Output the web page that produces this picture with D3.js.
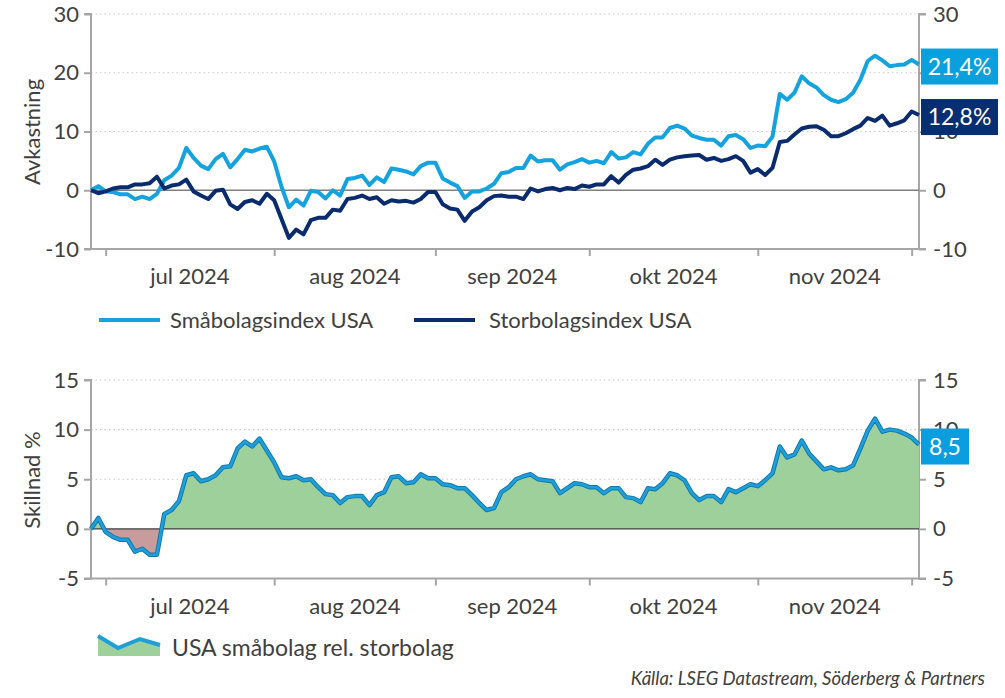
<!DOCTYPE html>
<html><head><meta charset="utf-8">
<script src="https://cdn.jsdelivr.net/npm/d3@7"></script>
<style>
html,body{margin:0;padding:0;background:#fff;}
svg{display:block;font-family:Lato, "Open Sans", sans-serif;}
</style></head>
<body>
<svg id="c" width="1005" height="698"></svg>
<script>
// ---------- DATA ----------
const startDay = "2024-06-27";
const endDay = "2024-12-04"; // exclusive; weekdays only
const monthLabels = ["jul 2024","aug 2024","sep 2024","okt 2024","nov 2024"];
const seriesNames = ["Småbolagsindex USA","Storbolagsindex USA"];
const diffName = "USA småbolag rel. storbolag";
const topTicks = [-10,0,10,20,30];
const bottomTicks = [-5,0,5,10,15];

const small = [0.0,0.7,-0.2,-0.3,-0.7,-0.7,-1.5,-1.1,-1.5,-0.6,
1.7,2.5,3.8,7.2,5.5,4.2,3.6,5.3,6.2,3.9,
5.3,6.9,6.6,7.1,7.4,4.9,0.6,-2.9,-1.6,-2.6,
-0.1,-0.3,-1.4,0.0,-0.9,1.9,2.1,2.5,0.9,2.2,
1.4,3.7,3.5,3.2,2.7,4.1,4.7,4.7,2.0,1.3,
0.7,-1.3,-0.2,-0.2,0.3,1.1,2.9,3.1,3.8,3.8,
5.9,4.9,5.1,5.1,3.5,4.4,4.8,5.3,4.7,5.0,
4.6,6.5,5.4,5.6,6.5,6.1,7.9,9.0,9.0,10.6,
11.0,10.5,9.3,8.9,8.6,8.6,7.6,9.2,9.4,8.7,
7.2,7.6,7.5,9.1,16.4,15.4,16.6,19.4,18.2,17.5,
16.2,15.4,15.0,15.5,16.6,18.8,22.0,22.9,22.1,21.1,
21.3,21.4,22.2,21.4];

const large = [0.0,-0.5,-0.2,0.3,0.5,0.5,1.0,1.0,1.2,2.3,
0.3,0.8,1.0,1.8,-0.2,-0.9,-1.5,-0.1,0.1,-2.4,
-3.2,-2.0,-1.7,-2.3,-0.6,-1.7,-4.9,-8.1,-6.7,-7.5,
-5.1,-4.7,-4.7,-3.3,-3.5,-1.5,-1.3,-0.9,-1.5,-1.2,
-2.3,-1.7,-1.9,-1.8,-2.1,-1.5,-0.3,-0.3,-2.4,-3.1,
-3.3,-5.2,-3.6,-2.9,-1.7,-1.0,-0.9,-1.1,-1.1,-1.5,
0.3,-0.2,0.2,0.4,0.0,0.4,0.2,0.8,0.6,1.0,
1.0,2.4,1.3,2.6,3.5,3.7,4.1,5.2,4.3,5.2,
5.6,5.8,5.9,6.0,5.2,5.5,5.0,5.3,5.8,5.0,
3.0,3.6,2.6,3.8,8.2,8.4,9.5,10.5,10.8,10.9,
10.3,9.2,9.2,9.7,10.4,11.0,12.3,11.8,12.7,11.0,
11.4,11.9,13.4,12.8];

const diff = [0.0,1.1,-0.3,-0.8,-1.1,-1.1,-2.3,-2.0,-2.6,-2.6,
1.5,1.9,2.8,5.4,5.6,4.8,5.0,5.4,6.2,6.3,
8.1,8.8,8.3,9.1,7.9,6.7,5.2,5.1,5.3,4.9,
5.0,4.2,3.5,3.4,2.6,3.2,3.3,3.3,2.4,3.4,
3.7,5.2,5.3,4.6,4.7,5.5,5.1,5.1,4.5,4.4,
4.1,4.1,3.4,2.6,1.9,2.1,3.7,4.2,5.0,5.3,
5.5,5.0,4.9,4.8,3.6,4.1,4.6,4.5,4.2,4.2,
3.6,4.1,4.1,3.2,3.1,2.7,4.1,4.0,4.6,5.6,
5.4,4.9,3.6,2.9,3.3,3.3,2.7,4.0,3.7,4.1,
4.5,4.3,4.9,5.6,8.3,7.2,7.5,8.9,7.6,6.8,
6.0,6.2,5.9,6.0,6.4,8.1,9.9,11.1,9.8,10.0,
9.9,9.6,9.2,8.5];

const endLabels = ["21,4%","12,8%"];
const diffEndLabel = "8,5";
const sourceText = "Källa: LSEG Datastream, Söderberg & Partners";

// ---------- SETUP ----------
const dates = d3.timeDay.range(new Date(startDay+"T00:00"), new Date(endDay+"T00:00"))
  .filter(d => d.getDay() !== 0 && d.getDay() !== 6);
const monthStarts = [];
dates.forEach((d,i) => { if (i>0 && d.getMonth() !== dates[i-1].getMonth()) monthStarts.push(i); });

const C = {light:"#14A3DF", dark:"#0A2C6E", text:"#404040", axis:"#A6A6A6", grid:"#C8C8C8",
  green:"#9DD09A", red:"#C99C9C", diffLine:"#1E9FDA", diffEdge:"#0F78AE"};
const FS = 22;

const svg = d3.select("#c");
const L = 91, R = 919;
const x = d3.scaleLinear().domain([0, dates.length-1]).range([L, R]);
const yT = d3.scaleLinear().domain([-10,30]).range([249,14]);
const yB = d3.scaleLinear().domain([-5,15]).range([578.5,380]);
const fmt = d => String(d);

function panel(y, ticks, title, titleY) {
  const g = svg.append("g");
  g.selectAll(".grid").data(ticks.filter(t => t !== 0 && t !== ticks[0])).join("line")
    .attr("x1", L).attr("x2", R).attr("y1", d => y(d)).attr("y2", d => y(d))
    .attr("stroke", C.grid).attr("stroke-width", 1.2).attr("stroke-dasharray", "1.5,3");
  const left = g.append("g").attr("transform", `translate(${L},0)`)
    .call(d3.axisLeft(y).tickValues(ticks).tickSize(7).tickPadding(5).tickFormat(fmt));
  const right = g.append("g").attr("transform", `translate(${R},0)`)
    .call(d3.axisRight(y).tickValues(ticks).tickSize(7).tickPadding(7).tickFormat(fmt));
  const bottom = g.append("g").attr("transform", `translate(0,${y(ticks[0])})`)
    .call(d3.axisBottom(x).tickValues(monthStarts).tickSize(7).tickFormat(""));
  [left,right,bottom].forEach(a => {
    a.select(".domain").attr("stroke", C.axis).attr("stroke-width", 2);
    a.selectAll(".tick line").attr("stroke", C.axis).attr("stroke-width", 2);
    a.selectAll("text").attr("fill", C.text).style("font-size", FS+"px").style("font-family","Lato");
  });
  left.select(".domain").attr("d", `M-7,${y(ticks[0])}H0V${y(ticks[ticks.length-1])}H-7`);
  right.select(".domain").attr("d", `M7,${y(ticks[0])}H0V${y(ticks[ticks.length-1])}H7`);
  bottom.select(".domain").attr("d", `M${L},0H${R}`);
  const mx = monthLabels.map((m,i) => (x(monthStarts[i]) + x(monthStarts[i+1]))/2);
  g.selectAll(".mlab").data(monthLabels).join("text")
    .attr("x", (d,i) => mx[i]).attr("y", y(ticks[0]) + 35)
    .attr("text-anchor", "middle").attr("fill", C.text).style("font-size", FS+"px").text(d => d);
  g.append("text").attr("transform", `translate(40,${titleY}) rotate(-90)`)
    .attr("text-anchor","middle").attr("fill", C.text).style("font-size", FS+"px").text(title);
  return g;
}

// ---------- TOP PANEL ----------
const gT = panel(yT, topTicks, "Avkastning", 132);
gT.append("line").attr("x1", L).attr("x2", R).attr("y1", yT(0)).attr("y2", yT(0))
  .attr("stroke", "#7F7F7F").attr("stroke-width", 1.5);
const line = v => d3.line().x((d,i) => x(i)).y(d => v(d));
gT.append("path").datum(small).attr("d", line(yT)).attr("fill","none")
  .attr("stroke", C.light).attr("stroke-width", 4).attr("stroke-linejoin","round");
gT.append("path").datum(large).attr("d", line(yT)).attr("fill","none")
  .attr("stroke", C.dark).attr("stroke-width", 4).attr("stroke-linejoin","round");

function endBox(g, yv, txt, fill, w) {
  const h = 36, bx = 921;
  g.append("rect").attr("x", bx).attr("y", yv - h/2 + 2).attr("width", w).attr("height", h).attr("fill", fill);
  g.append("text").attr("x", bx + w/2).attr("y", yv + 2).attr("dy","0.36em").attr("text-anchor","middle")
    .attr("fill","#fff").style("font-size","23px").text(txt);
}
endBox(gT, yT(small[small.length-1]), endLabels[0], "#0AA0DE", 77);
endBox(gT, yT(large[large.length-1]), endLabels[1], "#062E72", 77);

// legend top
const legY = 320;
[[99,C.light,seriesNames[0],170],[414,C.dark,seriesNames[1],489]].forEach(([lx,col,txt,tx]) => {
  svg.append("line").attr("x1", lx).attr("x2", lx+61).attr("y1", legY).attr("y2", legY)
    .attr("stroke", col).attr("stroke-width", 4);
  svg.append("text").attr("x", tx).attr("y", legY).attr("dy","0.35em").attr("fill", C.text)
    .style("font-size", FS+"px").text(txt);
});

// ---------- BOTTOM PANEL ----------
const gB = panel(yB, bottomTicks, "Skillnad %", 480);
const defs = svg.append("defs");
defs.append("clipPath").attr("id","pos").append("rect").attr("x",L).attr("y",0).attr("width",R-L).attr("height",yB(0));
defs.append("clipPath").attr("id","neg").append("rect").attr("x",L).attr("y",yB(0)).attr("width",R-L).attr("height",698-yB(0));
const area = d3.area().x((d,i) => x(i)).y0(yB(0)).y1(d => yB(d));
gB.append("path").datum(diff).attr("d", area).attr("fill", C.green).attr("clip-path","url(#pos)");
gB.append("path").datum(diff).attr("d", area).attr("fill", C.red).attr("clip-path","url(#neg)");
gB.append("line").attr("x1", L).attr("x2", R).attr("y1", yB(0)).attr("y2", yB(0))
  .attr("stroke", "#3F3F3F").attr("stroke-width", 1.3);
gB.append("path").datum(diff).attr("d", line(yB)).attr("fill","none")
  .attr("stroke", C.diffEdge).attr("stroke-width", 4.5).attr("stroke-linejoin","round");
gB.append("path").datum(diff).attr("d", line(yB)).attr("fill","none")
  .attr("stroke", C.diffLine).attr("stroke-width", 2.6).attr("stroke-linejoin","round");
endBox(gB, yB(diff[diff.length-1]), diffEndLabel, "#0A9DE0", 48);

// legend bottom
const lg = svg.append("g").attr("transform","translate(98,636)");
const iconPts = [[0,0],[20,12],[42,3],[62,9]];
lg.append("path").attr("d", d3.area().x(d=>d[0]).y0(20).y1(d=>d[1])(iconPts)).attr("fill", C.green);
lg.append("path").attr("d", d3.line()(iconPts)).attr("fill","none").attr("stroke", C.diffLine).attr("stroke-width",4);
svg.append("text").attr("x", 172).attr("y", 648).attr("dy","0.35em").attr("fill", C.text)
  .style("font-size", "23px").text(diffName);

// source
svg.append("text").attr("x", 985).attr("y", 685).attr("text-anchor","end").attr("fill", C.text)
  .style("font-size","18.5px").style("font-style","italic").text(sourceText);
</script>
</body></html>
